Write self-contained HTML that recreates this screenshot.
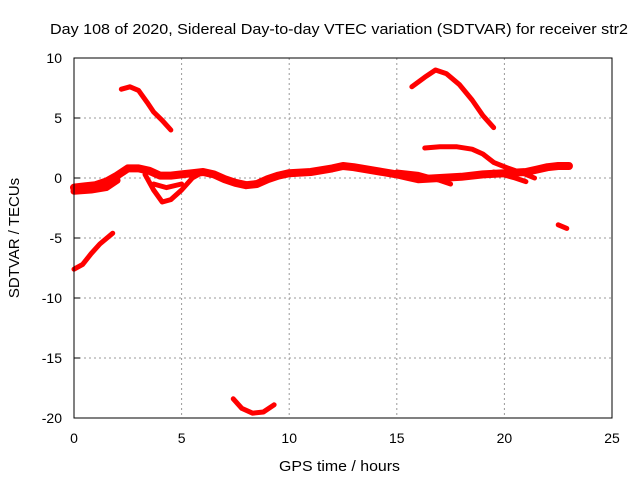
<!DOCTYPE html>
<html><head><meta charset="utf-8"><style>body{margin:0;background:#fff}svg{display:block}text{font-family:"Liberation Sans",sans-serif;font-size:14px;fill:#000}</style></head>
<body>
<svg id="c" width="640" height="480">
<rect width="640" height="480" fill="#fff"/>
<g id="grid"></g><g id="series"></g>
<rect x="74" y="58" width="538" height="360" fill="none" stroke="#000" stroke-width="1"/>
<g id="axes"></g>
<text x="50" y="34" textLength="578" lengthAdjust="spacingAndGlyphs" style="font-size:15px">Day 108 of 2020, Sidereal Day-to-day VTEC variation (SDTVAR) for receiver str2</text>
<text x="279" y="471" textLength="121" lengthAdjust="spacingAndGlyphs" style="font-size:15px">GPS time / hours</text>
<text transform="translate(19,238) rotate(-90)" text-anchor="middle" style="font-size:15px">SDTVAR / TECUs</text>
</svg>
<script>
const xTicks=[0,5,10,15,20,25];
const yTicks=[10,5,0,-5,-10,-15,-20];
const arcA=[[2.2,7.4],[2.6,7.6],[3.0,7.3],[3.4,6.3],[3.7,5.5],[4.1,4.8],[4.5,4.0]];
const arcB=[[0,-7.6],[0.4,-7.2],[0.8,-6.3],[1.2,-5.5],[1.8,-4.6]];
const arcC=[[7.4,-18.4],[7.8,-19.2],[8.3,-19.6],[8.8,-19.5],[9.3,-18.9]];
const arcD=[[15.7,7.6],[16.3,8.4],[16.8,9.0],[17.3,8.7],[17.9,7.8],[18.5,6.5],[19.0,5.2],[19.5,4.2]];
const arcE=[[16.3,2.5],[17.0,2.6],[17.8,2.6],[18.5,2.4],[19.0,2.0],[19.5,1.3],[20.2,0.8],[21.0,0.3],[21.4,0.0]];
const arcF=[[22.5,-3.9],[22.9,-4.2]];
const mainBand=[[0,-0.8],[0.5,-0.7],[1,-0.6],[1.5,-0.3],[2,0.2],[2.5,0.8],[3,0.8],[3.5,0.6],[4,0.2],[4.5,0.2],[5,0.3],[5.5,0.4],[6,0.5],[6.5,0.3],[7,-0.1],[7.5,-0.4],[8,-0.6],[8.5,-0.5],[9,-0.1],[9.5,0.2],[10,0.4],[11,0.5],[12,0.8],[12.5,1.0],[13,0.9],[14,0.6],[15,0.3],[15.5,0.1],[16,-0.1],[17,0.0],[18,0.1],[19,0.3],[20,0.4],[21,0.5],[21.5,0.7],[22,0.9],[22.5,1.0],[23,1.0]];
const lowBand=[[0,-1.1],[0.8,-1.0],[1.5,-0.8],[2,-0.2]];
const loopA=[[3.3,0.3],[3.7,-1.0],[4.1,-2.0],[4.5,-1.8],[5,-1.0],[5.5,0.0],[6,0.5]];
const loopB=[[3.7,-0.5],[4.3,-0.8],[5,-0.5]];
const bandG=[[15,0.5],[16,0.3],[17,-0.2],[17.5,-0.5]];
const bandH=[[19.5,0.5],[20.5,0.0],[21,-0.3]];
const NS='http://www.w3.org/2000/svg';
const X=h=>74+h*538/25, Y=v=>178-v*12;
const grid=document.getElementById('grid'),axes=document.getElementById('axes'),ser=document.getElementById('series');
function mk(p,t,a){const e=document.createElementNS(NS,t);for(const k in a)e.setAttribute(k,a[k]);p.appendChild(e);return e;}
xTicks.forEach(t=>{const x=X(t);
 if(t>0&&t<25){const g=mk(grid,'line',{x1:x,x2:x,y1:58,y2:418,stroke:'#999','stroke-dasharray':'2,3'});
 
 }
 const l=mk(axes,'text',{x:x,y:443,'text-anchor':'middle'});l.textContent=t;
 
 });
yTicks.forEach(t=>{const y=Y(t);
 if(t<10&&t>-20){const g=mk(grid,'line',{x1:74,x2:612,y1:y,y2:y,stroke:'#999','stroke-dasharray':'2,3'});
 
 }
 mk(axes,'line',{x1:74,x2:80,y1:y,y2:y,stroke:'#000'});
 const l=mk(axes,'text',{x:62,y:y+5,'text-anchor':'end'});l.textContent=t;
 
 });
[[arcA,'arc-a',5],[arcB,'arc-b',5],[arcC,'arc-c',5],[arcD,'arc-d',5],[arcE,'arc-e',5],[arcF,'arc-f',5],[mainBand,'main-band',8],[lowBand,'low-band',7],[loopA,'loop-a',5],[loopB,'loop-b',5],[bandG,'band-g',5],[bandH,'band-h',5]].forEach(([d,n,w])=>{
 const p=mk(ser,'polyline',{points:d.map(q=>X(q[0])+','+Y(q[1])).join(' '),fill:'none',stroke:'#ff0000','stroke-width':w,'stroke-linejoin':'round','stroke-linecap':'round'});
 
 });
</script>
</body></html>
